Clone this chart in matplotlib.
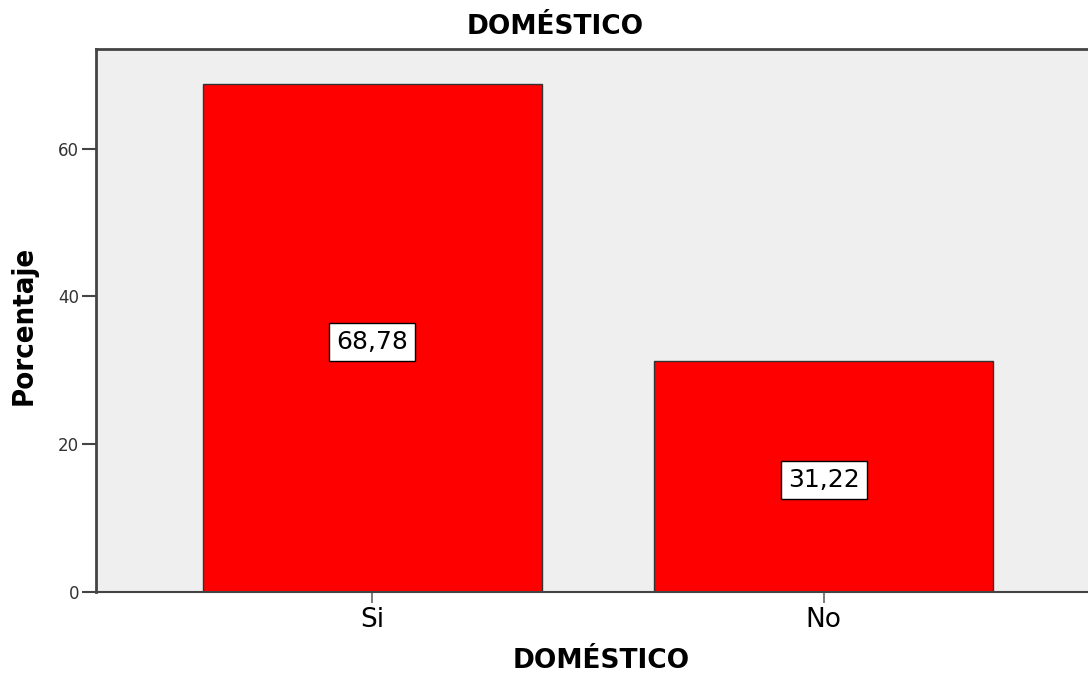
import matplotlib.pyplot as plt

categories = ["Si", "No"]
percentages = [68.78, 31.22]
value_labels = ["68,78", "31,22"]
y_ticks = [0, 20, 40, 60]

plt.rcParams['font.family'] = ['DejaVu Sans']

fig = plt.figure(figsize=(10.88, 6.75), dpi=100)
ax = fig.add_axes([96 / 1088, 83 / 675, 1004 / 1088, 543.5 / 675])
ax.set_facecolor("#efefef")

x = range(len(categories))
bars = ax.bar(x, percentages, width=0.75, color="#ff0000", edgecolor="#333333", linewidth=1.0)

for xi, v, lab in zip(x, percentages, value_labels):
    ax.text(xi, v / 2 - 0.5, lab, ha="center", va="center", fontsize=18, color="black",
            bbox=dict(boxstyle="square,pad=0.28", facecolor="white", edgecolor="black", linewidth=1))

ax.set_xlim(-0.612, 1.612)
ax.set_ylim(0, 73.55)
ax.set_xticks(list(x))
ax.set_xticklabels(categories, fontsize=19)
ax.set_yticks(y_ticks)
ax.set_yticklabels([str(t) for t in y_ticks], fontsize=12, color="#333333")

ax.tick_params(axis="y", length=10, width=1.5, color="#444444", pad=2)
ax.tick_params(axis="x", length=8, width=1.2, color="#666666", pad=3)

for side in ["left", "top", "bottom"]:
    ax.spines[side].set_color("#444444")
    ax.spines[side].set_linewidth(2)
ax.spines["right"].set_visible(False)
ax.spines["bottom"].set_linewidth(1.5)

fig.text(555 / 1088, 1 - 27 / 675, "DOMÉSTICO", ha="center", va="center", fontsize=19, fontweight="bold")
fig.text(601 / 1088, 1 - 661 / 675, "DOMÉSTICO", ha="center", va="center", fontsize=19, fontweight="bold")
fig.text(24 / 1088, 1 - 325 / 675, "Porcentaje", ha="center", va="center", rotation=90,
         fontsize=21, fontweight="bold", fontstretch="condensed")

plt.savefig("out.png", dpi=100)
